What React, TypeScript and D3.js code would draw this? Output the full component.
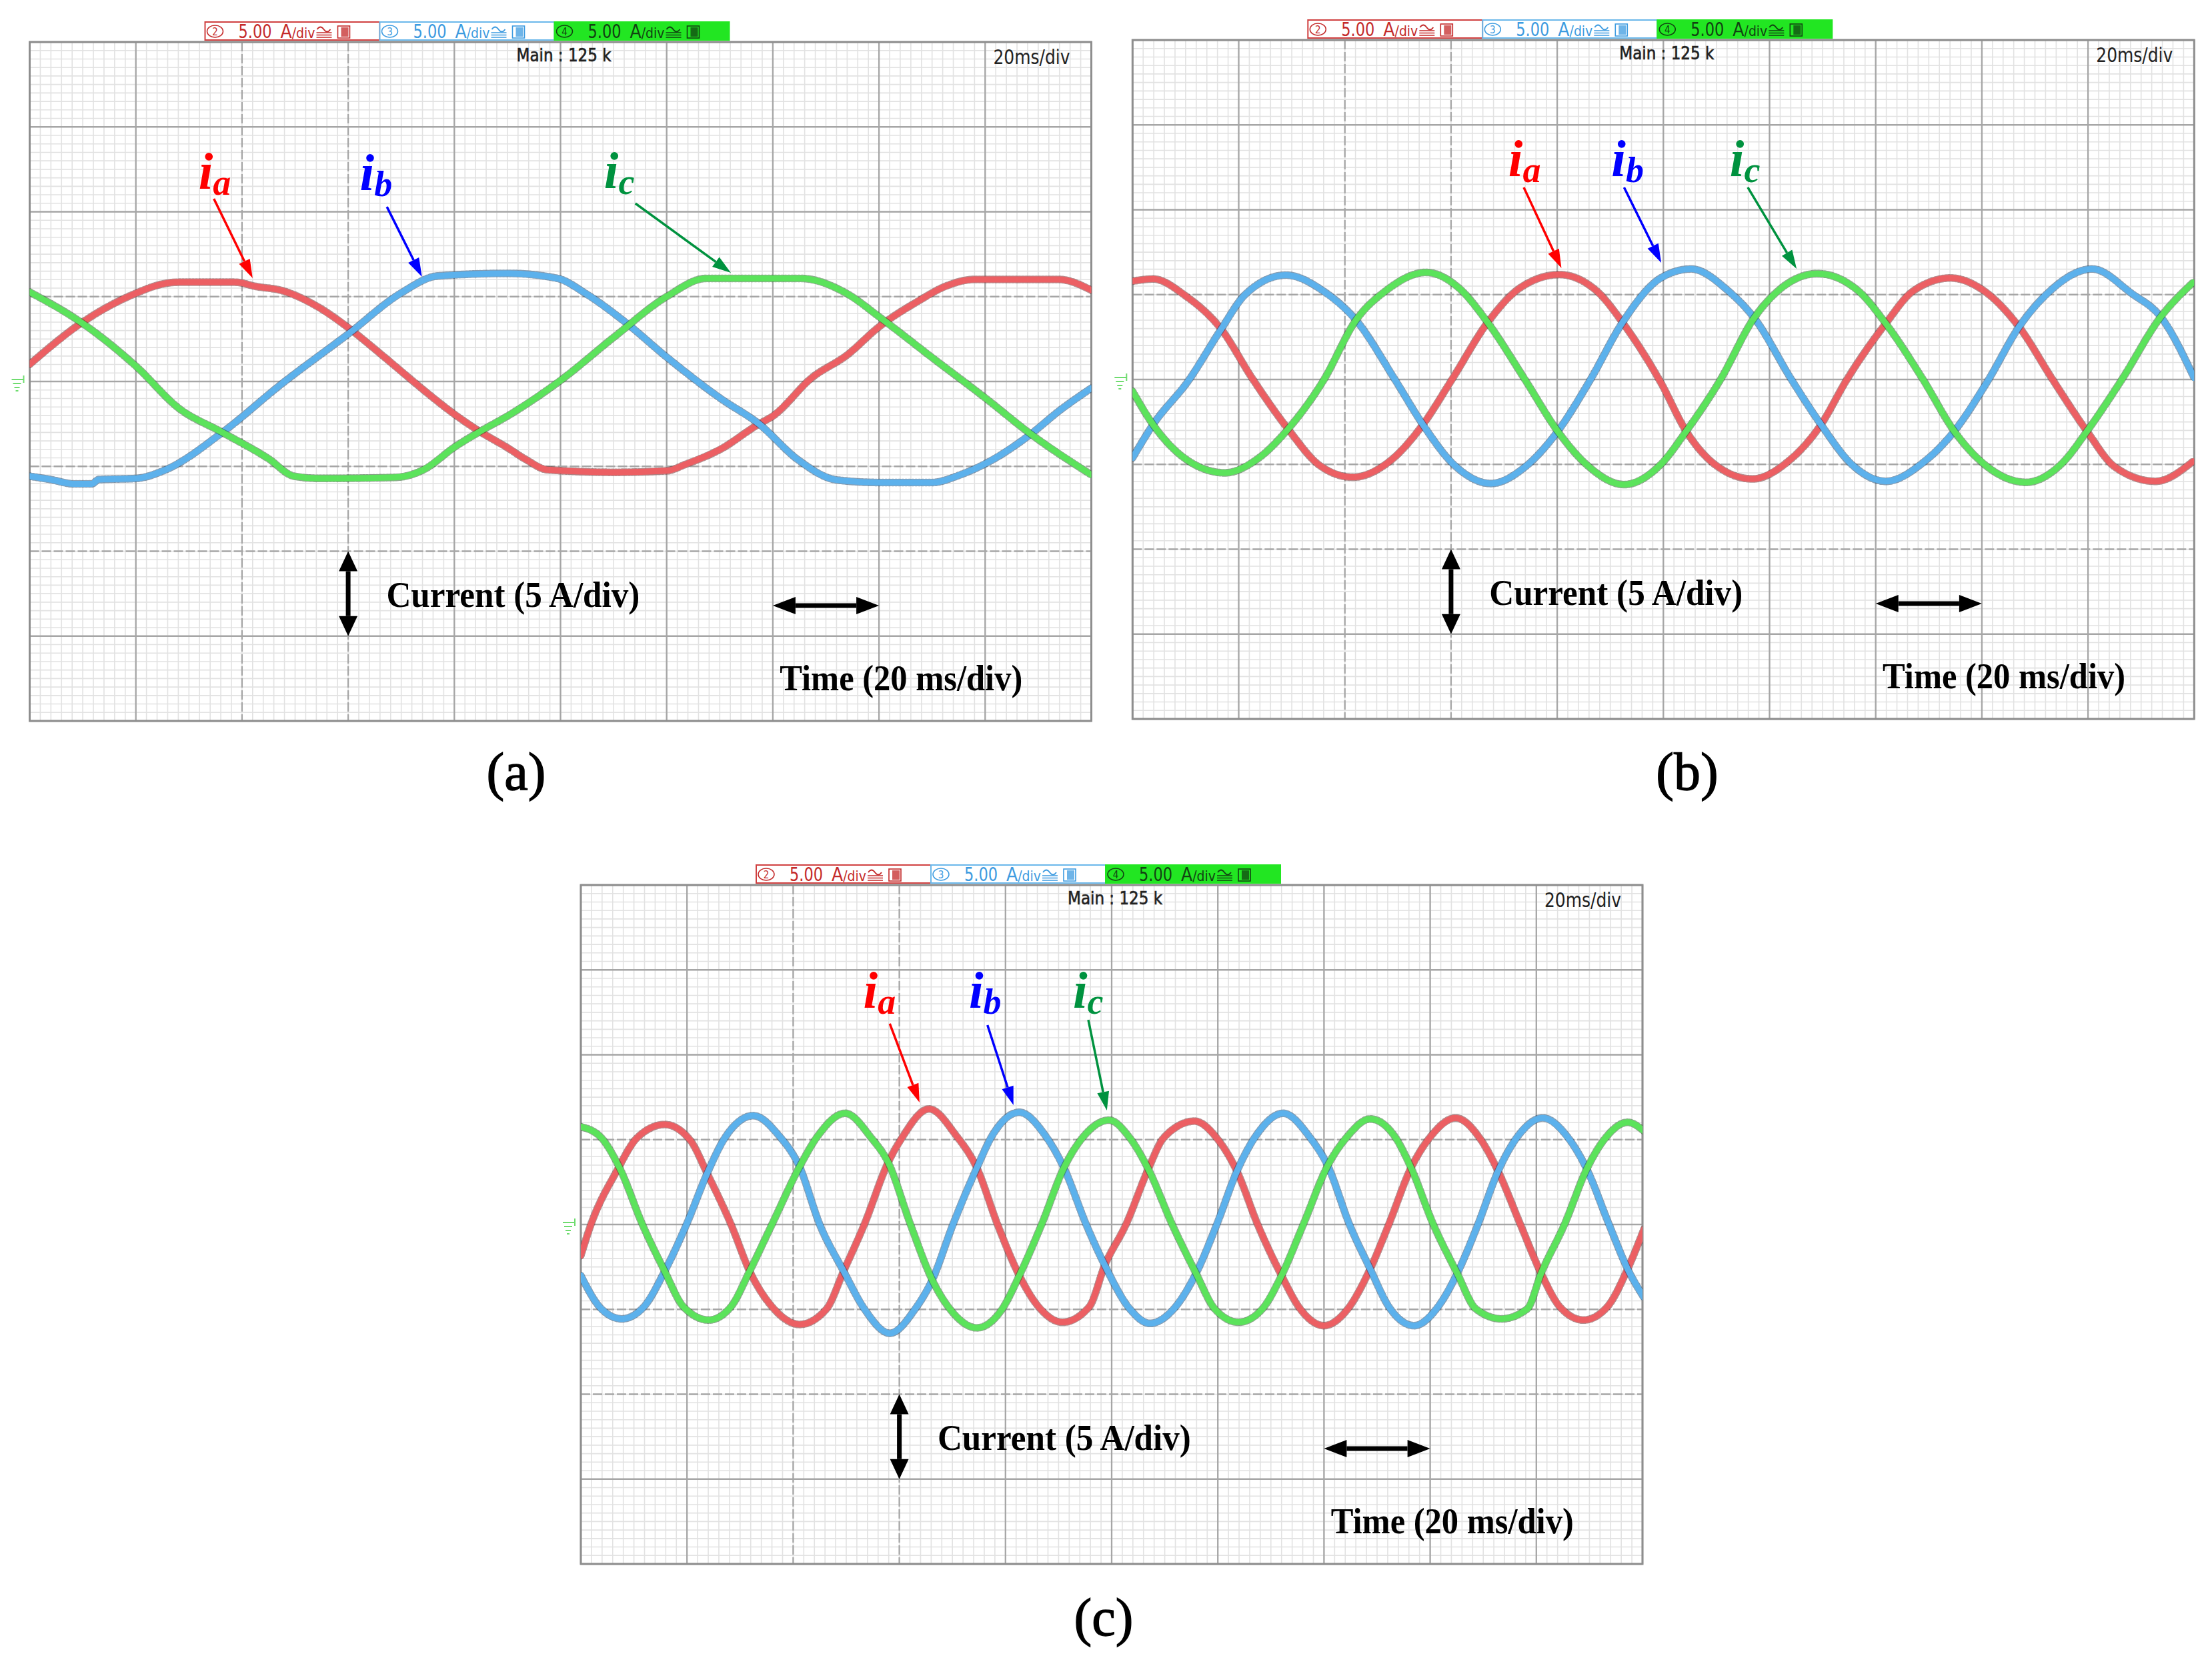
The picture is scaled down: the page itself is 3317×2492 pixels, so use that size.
import React from 'react';
import * as d3 from 'd3';

type Pt = [number, number];

const FIG_W = 3317;
const FIG_H = 2492;
const PW = 1592; // 10 div wide
const PH = 1018; // 8 div high

// scope screen: 20 ms/div x 10 div, 5 A/div x 8 div
const T_MAX = 200;
const I_MAX = 20;
const majorT = d3.range(0, T_MAX + 1, 20);
const majorI = d3.range(-I_MAX, I_MAX + 1, 5);
const minorT = d3.range(0, T_MAX + 0.01, 2);
const minorI = d3.range(-I_MAX, I_MAX + 0.01, 0.5);
const dashedT = [40, 60];
const dashedI = [5, -5, -10];

const channels = ['2', '3', '4'];
const chScale = '5.00';
const phases = ['a', 'b', 'c'];
const traceColors = ['#ec5f63', '#5cb1ec', '#5be35b'];
const edgeColors = ['#6b1f22', '#123f6b', '#1d5a1d'];
const labelColors = ['#ff0000', '#0000ff', '#00923f'];

// (a) low speed, trapezoid-like currents  [t ms, i A]
const aIa: Pt[] = [[0, 1.01], [9.8, 3.46], [20.1, 5.21], [24.7, 5.72], [28, 5.85], [38.7, 5.85], [42.6, 5.6], [47.6, 5.35], [54.3, 4.4], [60.1, 3.15], [66.2, 1.6], [70, 0.6], [74.2, -0.5], [80.1, -1.95], [84.8, -2.95], [90, -3.9], [93.5, -4.6], [97.5, -5.2], [110.1, -5.35], [120.1, -5.26], [123.4, -4.9], [130.1, -4.0], [137.4, -2.5], [140, -2.04], [147.3, 0.21], [154, 1.56], [160, 3.22], [167.3, 4.72], [172.6, 5.62], [177.9, 6.01], [193.9, 6.01], [200, 5.38]];
const aIb: Pt[] = [[0, -5.58], [4, -5.78], [8.3, -6.03], [11.7, -6.03], [13, -5.78], [20.1, -5.71], [25.7, -5.19], [36.3, -3.0], [47.4, -0.16], [60.1, 2.82], [69.9, 5.2], [76.9, 6.22], [90.2, 6.37], [99.5, 6.07], [104.8, 5.17], [112.1, 3.52], [120.1, 1.41], [130.1, -0.99], [137.4, -2.5], [144.7, -4.6], [152, -5.8], [160, -5.95], [170, -5.95], [175.3, -5.5], [180.6, -4.75], [188.6, -3.1], [193.9, -1.74], [200, -0.39]];
const aIc: Pt[] = [[0, 5.27], [9.8, 3.46], [20.1, 0.88], [28.1, -1.58], [36.3, -3.0], [45, -4.55], [49.8, -5.58], [54.6, -5.71], [68.9, -5.65], [74.2, -5.2], [80.1, -3.85], [84.8, -2.95], [90, -2.04], [100, 0.06], [110.1, 2.62], [120.1, 5.02], [127.4, 6.07], [145.3, 6.07], [154, 5.17], [160, 3.82], [170, 1.41], [180.1, -0.99], [188.6, -3.1], [200, -5.5]];

// (b)
const bIa: Pt[] = [[0, 5.79], [3.86, 5.92], [9.97, 4.93], [16.7, 2.97], [22.5, 0.09], [29.3, -2.92], [35.4, -5.1], [41.5, -5.76], [48.2, -4.88], [54.7, -2.66], [60.1, -0.04], [66.9, 3.36], [72.7, 5.33], [80.4, 6.18], [87.5, 5.2], [92.6, 3.23], [99.5, -0.17], [104.3, -3.05], [109.7, -5.01], [116.8, -5.86], [123.3, -4.88], [129.7, -2.66], [134.5, -0.04], [141.9, 3.3], [147, 5.2], [154.1, 5.98], [160.5, 5.2], [167, 3.1], [173.4, -0.04], [179.8, -3.05], [185, -5.14], [192.7, -6.0], [199.8, -4.82]];
const bIb: Pt[] = [[0, -4.62], [3.86, -2.66], [10.6, -0.04], [16.7, 2.97], [21.2, 5.0], [28.9, 6.15], [36, 5.2], [42.1, 3.5], [49.5, -0.04], [54.7, -2.66], [60.5, -5.01], [67.5, -6.13], [74, -5.14], [80.1, -3.05], [86.2, -0.04], [92.3, 3.36], [99.5, 5.98], [105.2, 6.51], [112.3, 5.2], [117.1, 3.63], [124.2, -0.04], [129.7, -2.66], [135.5, -5.01], [141.9, -6.0], [149, -4.88], [154.8, -3.05], [161.2, -0.04], [167, 3.1], [172.1, 5.0], [180.8, 6.51], [188.2, 5.07], [193.7, 3.69], [200, 0.09]];
const bIc: Pt[] = [[0, -0.69], [3.86, -2.66], [10.3, -4.75], [17.4, -5.5], [23.8, -4.62], [29.3, -2.92], [36, -0.04], [42.1, 3.5], [47.6, 5.2], [55.3, 6.31], [61.7, 5.33], [66.9, 3.36], [74, -0.04], [80.1, -3.05], [85.5, -5.01], [92.6, -6.19], [99.5, -5.01], [104.3, -3.05], [110.7, -0.04], [117.1, 3.63], [122, 5.33], [129, 6.24], [136.8, 5.2], [141.9, 3.3], [149, -0.04], [154.8, -3.05], [160.5, -5.01], [168.3, -6.06], [175.3, -4.88], [179.8, -3.05], [186.3, -0.04], [193.7, 3.69], [199.8, 5.72]];

// (c)
const cIa: Pt[] = [[0, -1.83], [1.9, 0], [6.75, 3.14], [10.6, 5.11], [15.8, 5.89], [20.6, 4.97], [23.8, 3.01], [28.3, 0], [31.8, -2.75], [36, -4.84], [41.2, -5.89], [46.3, -4.97], [49.5, -2.75], [53.4, 0], [57.9, 3.66], [60.5, 5.11], [65.6, 6.81], [70.7, 5.24], [74.6, 3.34], [78.5, 0], [82.6, -3.01], [86.2, -4.84], [90.7, -5.76], [95.8, -4.84], [98.7, -2.4], [102.7, 0], [106.9, 3.27], [109.8, 5.11], [115.6, 6.09], [120.1, 4.97], [123.6, 3.14], [127.5, 0], [132, -3.01], [135.5, -4.97], [140, -5.96], [144.5, -4.97], [148.7, -2.62], [152.2, 0], [156.4, 3.34], [159.9, 5.11], [164.8, 6.28], [169.6, 4.97], [172.8, 3.14], [177, 0], [180.9, -2.88], [184.4, -4.84], [188.9, -5.63], [193.4, -4.84], [197.2, -2.62], [200.3, -0.26]];
const cIb: Pt[] = [[0, -3.01], [3.86, -4.97], [7.7, -5.56], [11.9, -4.84], [15.8, -2.75], [19.9, 0], [23.8, 3.01], [27, 5.04], [32.5, 6.41], [37.3, 5.24], [41.2, 3.4], [45, 0], [49.5, -2.75], [53.4, -4.97], [58.2, -6.41], [63, -4.97], [66.2, -3.27], [70.1, 0], [74.6, 3.34], [77.5, 5.24], [82.6, 6.61], [87.5, 5.24], [91, 3.34], [95.2, 0], [98.7, -2.4], [103.4, -4.97], [107.2, -5.83], [111.7, -4.97], [115.9, -2.88], [119.8, 0], [123.6, 3.14], [127.2, 5.24], [132.3, 6.55], [137.4, 5.11], [140.7, 3.47], [144.8, 0], [148.7, -2.62], [152.2, -4.84], [157, -5.96], [161.5, -4.84], [165.1, -2.88], [169, 0], [172.8, 3.14], [176.3, 5.11], [181.2, 6.28], [186, 5.11], [189.5, 3.27], [193.7, 0], [197.2, -2.62], [200.3, -4.32]];
const cIc: Pt[] = [[0, 5.76], [3.86, 5.11], [7.4, 3.27], [11.6, 0], [15.8, -2.75], [19.3, -4.84], [24.1, -5.63], [28.3, -4.84], [31.8, -2.75], [36, 0], [41.2, 3.4], [44.4, 5.11], [49.8, 6.55], [54.7, 5.11], [57.9, 3.66], [62.1, 0], [66.2, -3.27], [69.5, -4.97], [74.6, -6.09], [79.4, -4.97], [82.6, -3.01], [86.8, 0], [91, 3.34], [94.5, 5.11], [99.5, 6.15], [103.4, 5.11], [106.9, 3.27], [111.4, 0], [115.9, -2.88], [119.4, -4.97], [123.9, -5.76], [128.4, -4.97], [132, -3.01], [136.1, 0], [140.7, 3.47], [144.2, 5.11], [148.7, 6.22], [153.5, 5.11], [156.4, 3.34], [160.6, 0], [165.1, -2.88], [168.6, -4.97], [173.4, -5.56], [178.3, -4.97], [180.9, -2.88], [185.3, 0], [189.5, 3.27], [192.7, 4.97], [197.2, 6.02], [200.3, 5.5]];

// label anchors and arrows in scope units [t, i] / [t1, i1, t2, i2]
const labelsA: Pt[] = [[31.8, 11.36], [62.2, 11.28], [108.2, 11.39]];
const arrowsA = [[34.7, 10.77, 42.0, 6.09], [67.3, 10.29, 73.9, 6.17], [114.1, 10.49, 132.1, 6.4]];
const labelsB: Pt[] = [[70.8, 11.98], [90.2, 11.98], [112.5, 11.98]];
const arrowsB = [[73.7, 11.32, 80.8, 6.56], [92.6, 11.32, 99.6, 6.88], [115.9, 11.32, 125.1, 6.52]];
const labelsC: Pt[] = [[53.2, 12.77], [73.1, 12.77], [92.7, 12.77]];
const arrowsC = [[58.2, 11.83, 63.8, 7.19], [76.6, 11.75, 81.5, 7.03], [95.6, 12.06, 99.1, 6.72]];

const panels = [
  { id: 'a', x0: 44.5, y0: 63, data: [aIa, aIb, aIc], labels: labelsA, arrows: arrowsA, cap: [774, 1184] },
  { id: 'b', x0: 1698.3, y0: 60, data: [bIa, bIb, bIc], labels: labelsB, arrows: arrowsB, cap: [2530, 1184] },
  { id: 'c', x0: 871, y0: 1327, data: [cIa, cIb, cIc], labels: labelsC, arrows: arrowsC, cap: [1655, 2452] },
];

function head(x1: number, y1: number, x2: number, y2: number, len: number, half: number) {
  const a = Math.atan2(y2 - y1, x2 - x1);
  const bx = x2 - len * Math.cos(a);
  const by = y2 - len * Math.sin(a);
  const px = -Math.sin(a) * half;
  const py = Math.cos(a) * half;
  return { pts: `${x2},${y2} ${bx + px},${by + py} ${bx - px},${by - py}`, bx, by };
}

const boxStyles = [
  { stroke: '#d04040', fill: '#ffffff', text: '#c42a2a' },
  { stroke: '#6ab7ea', fill: '#ffffff', text: '#3d9be0' },
  { stroke: '#22e622', fill: '#22e622', text: '#124212' },
];

const NARROW = '"Liberation Sans Narrow", "DejaVu Sans Condensed", "Liberation Sans", sans-serif';
const SERIF = '"Liberation Serif", "Times New Roman", serif';

function ChannelBox({ x, y, ch, st }: any) {
  return (
    <g>
      <rect x={x} y={y} width={262} height={27} fill={st.fill} stroke={st.stroke} strokeWidth={2} />
      <ellipse cx={x + 15} cy={y + 14} rx={12} ry={9} fill="none" stroke={st.text} strokeWidth={1.5} />
      <text x={x + 15} y={y + 19.5} fontSize={15} fontFamily={NARROW} fill={st.text} textAnchor="middle">{ch}</text>
      <text x={x + 50} y={y + 24} fontSize={29} fontFamily={NARROW} fill={st.text} textLength={50} lengthAdjust="spacingAndGlyphs">{chScale}</text>
      <text x={x + 113} y={y + 24} fontSize={28} fontFamily={NARROW} fill={st.text} textLength={52} lengthAdjust="spacingAndGlyphs">
        A<tspan fontSize={21}>/div</tspan>
      </text>
      <path d={`M${x + 168},${y + 11} q5,-7 10,0 t10,0`} fill="none" stroke={st.text} strokeWidth={1.8} />
      {[16, 19.5, 23].map(d => (
        <line key={d} x1={x + 167} x2={x + 190} y1={y + d} y2={y + d} stroke={st.text} strokeWidth={1.5} />
      ))}
      <rect x={x + 199} y={y + 6} width={18} height={18} fill="none" stroke={st.text} strokeWidth={1.6} />
      <rect x={x + 204} y={y + 8} width={11} height={14} fill={st.text} opacity={0.75} />
    </g>
  );
}

function Panel({ p }: any) {
  const xs = d3.scaleLinear().domain([0, T_MAX]).range([p.x0, p.x0 + PW]);
  const ys = d3.scaleLinear().domain([-I_MAX, I_MAX]).range([p.y0 + PH, p.y0]);
  const line = d3.line<Pt>().x(d => xs(d[0])).y(d => ys(d[1])).curve(d3.curveMonotoneX);
  const clipId = `clip-${p.id}`;
  const yc = ys(0);

  const vx = xs(60), vTop = ys(-10), vBot = ys(-15);
  const hx1 = xs(140), hx2 = xs(160), hy = ys(-13.2);
  const hU = head(vx, vBot, vx, vTop, 30, 14);
  const hD = head(vx, vTop, vx, vBot, 30, 14);
  const hL = head(hx2, hy, hx1, hy, 34, 13);
  const hR = head(hx1, hy, hx2, hy, 34, 13);

  return (
    <g>
      <defs>
        <clipPath id={clipId}>
          <rect x={p.x0} y={p.y0} width={PW} height={PH} />
        </clipPath>
      </defs>
      {/* minor grid */}
      <g stroke="#e2e2e2" strokeWidth={1.6}>
        {minorT.map(t => <line key={'mt' + t} x1={xs(t)} x2={xs(t)} y1={p.y0} y2={p.y0 + PH} />)}
        {minorI.map(v => <line key={'mi' + v} x1={p.x0} x2={p.x0 + PW} y1={ys(v)} y2={ys(v)} />)}
      </g>
      {/* major grid */}
      <g stroke="#a6a6a6" strokeWidth={2.3}>
        {majorT.map(t => (
          <line key={'Mt' + t} x1={xs(t)} x2={xs(t)} y1={p.y0} y2={p.y0 + PH}
            strokeDasharray={dashedT.includes(t) ? '14 4' : undefined} />
        ))}
        {majorI.map(v => (
          <line key={'Mi' + v} x1={p.x0} x2={p.x0 + PW} y1={ys(v)} y2={ys(v)}
            strokeDasharray={dashedI.includes(v) ? '14 4' : undefined} />
        ))}
      </g>
      <rect x={p.x0} y={p.y0} width={PW} height={PH} fill="none" stroke="#8e8e8e" strokeWidth={3} />

      {/* ground marker */}
      <g stroke="#6fdc6f" strokeWidth={2}>
        <line x1={p.x0 - 9} x2={p.x0 - 9} y1={yc - 9} y2={yc + 2} />
        <line x1={p.x0 - 27} x2={p.x0 - 9} y1={yc - 3} y2={yc - 3} />
        <line x1={p.x0 - 25} x2={p.x0 - 13} y1={yc + 3} y2={yc + 3} />
        <line x1={p.x0 - 23} x2={p.x0 - 15} y1={yc + 9} y2={yc + 9} />
        <line x1={p.x0 - 21} x2={p.x0 - 17} y1={yc + 14} y2={yc + 14} />
      </g>

      {/* header */}
      {channels.map((ch, i) => (
        <ChannelBox key={ch} x={p.x0 + 263 + i * 262} y={p.y0 - 30} ch={ch} st={boxStyles[i]} />
      ))}
      <text x={p.x0 + 730} y={p.y0 + 29} fontSize={27} fontFamily={NARROW} fill="#222"
        stroke="#222" strokeWidth={0.6} textLength={142} lengthAdjust="spacingAndGlyphs">Main : 125 k</text>
      <text x={p.x0 + 1445} y={p.y0 + 33} fontSize={31} fontFamily={NARROW} fill="#222"
        textLength={115} lengthAdjust="spacingAndGlyphs">20ms/div</text>

      {/* traces */}
      <g clipPath={`url(#${clipId})`} fill="none" strokeLinejoin="round" strokeLinecap="round">
        {p.data.map((d: Pt[], i: number) => (
          <g key={i}>
            <path d={line(d) || ''} stroke={edgeColors[i]} strokeWidth={11.5} strokeDasharray="2 3" opacity={0.5} />
            <path d={line(d) || ''} stroke={traceColors[i]} strokeWidth={9} />
          </g>
        ))}
      </g>

      {/* phase labels and arrows */}
      {p.labels.map((l: Pt, i: number) => (
        <text key={'l' + i} x={xs(l[0])} y={ys(l[1])} fontFamily={SERIF} fontStyle="italic" fontWeight="bold"
          fontSize={78} fill={labelColors[i]}>
          i<tspan fontSize={54} dy={9}>{phases[i]}</tspan>
        </text>
      ))}
      {p.arrows.map((a: number[], i: number) => {
        const x1 = xs(a[0]), y1 = ys(a[1]), x2 = xs(a[2]), y2 = ys(a[3]);
        const h = head(x1, y1, x2, y2, 28, 9);
        return (
          <g key={'a' + i}>
            <line x1={x1} y1={y1} x2={h.bx} y2={h.by} stroke={labelColors[i]} strokeWidth={3.5} />
            <polygon points={h.pts} fill={labelColors[i]} />
          </g>
        );
      })}

      {/* scale arrows and notes */}
      <line x1={vx} x2={vx} y1={hU.by} y2={hD.by} stroke="#000" strokeWidth={7} />
      <polygon points={hU.pts} fill="#000" />
      <polygon points={hD.pts} fill="#000" />
      <line x1={hL.bx} x2={hR.bx} y1={hy} y2={hy} stroke="#000" strokeWidth={7} />
      <polygon points={hL.pts} fill="#000" />
      <polygon points={hR.pts} fill="#000" />
      <text x={xs(67.2)} y={ys(-13.3)} fontFamily={SERIF} fontWeight="bold" fontSize={54} fill="#000"
        textLength={380} lengthAdjust="spacingAndGlyphs">Current (5 A/div)</text>
      <text x={xs(141.3)} y={ys(-18.2)} fontFamily={SERIF} fontWeight="bold" fontSize={54} fill="#000"
        textLength={364} lengthAdjust="spacingAndGlyphs">Time (20 ms/div)</text>

      <text x={p.cap[0]} y={p.cap[1]} fontFamily={SERIF} fontSize={80} fill="#000" stroke="#000" strokeWidth={1.3}
        textAnchor="middle">({p.id})</text>
    </g>
  );
}

export default function App() {
  return (
    <svg width={FIG_W} height={FIG_H} viewBox={`0 0 ${FIG_W} ${FIG_H}`}
      style={{ position: 'absolute', left: 0, top: 0, background: '#fff' }}>
      <rect width={FIG_W} height={FIG_H} fill="#fff" />
      {panels.map(p => <Panel key={p.id} p={p} />)}
    </svg>
  );
}
